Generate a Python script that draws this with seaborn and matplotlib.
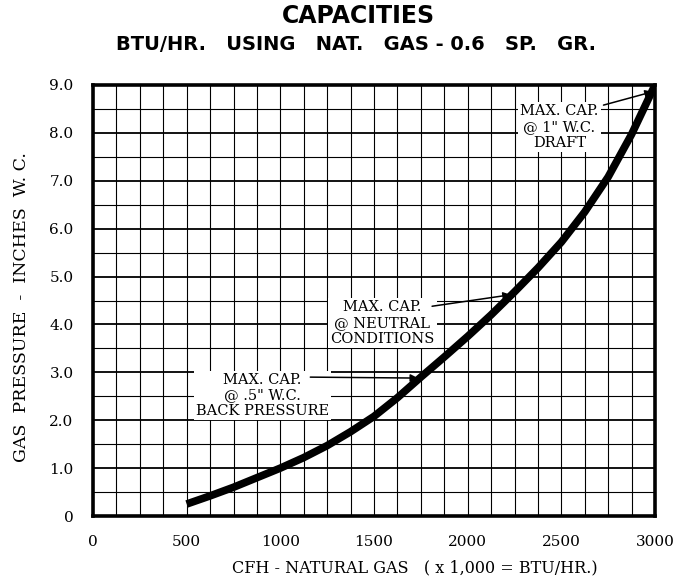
import numpy as np
import matplotlib
matplotlib.use("Agg")
import matplotlib.pyplot as plt
import seaborn as sns

sns.set_style("white")
plt.rcParams["font.family"] = ["DejaVu Serif"]
plt.rcParams["text.color"] = "black"
plt.rcParams["xtick.color"] = "black"
plt.rcParams["ytick.color"] = "black"

# curve (CFH vs. gas pressure, inches W.C.)
cfh = [500, 625, 750, 875, 1000, 1125, 1250, 1375, 1500, 1625, 1750, 1875,
       2000, 2125, 2250, 2375, 2500, 2625, 2750, 2875, 3000]
pressure = [0.25, 0.42, 0.6, 0.8, 1.0, 1.22, 1.47, 1.76, 2.08, 2.47, 2.9, 3.32,
            3.75, 4.2, 4.68, 5.18, 5.72, 6.35, 7.08, 7.97, 9.0]

x_ticks = [0, 500, 1000, 1500, 2000, 2500, 3000]
y_ticks = [0, 1, 2, 3, 4, 5, 6, 7, 8, 9]
y_labels = ["0", "1.0", "2.0", "3.0", "4.0", "5.0", "6.0", "7.0", "8.0", "9.0"]

notes = ["MAX. CAP.\n@ 1\" W.C.\nDRAFT",
         "MAX. CAP.\n@ NEUTRAL\nCONDITIONS",
         "MAX. CAP.\n@ .5\" W.C.\nBACK PRESSURE"]
note_xy = [(2490, 8.12), (1545, 4.03), (905, 2.52)]
arrow_from = [(2725, 8.58), (1810, 4.38), (1160, 2.9)]
arrow_to = [(2988, 8.86), (2230, 4.62), (1735, 2.88)]

fig = plt.figure(figsize=(6.81, 5.8), dpi=100)
ax = fig.add_axes([93 / 681, 64 / 580, 562 / 681, 431 / 580])

ax.set_xlim(0, 3000)
ax.set_ylim(0, 9)
ax.set_xticks(x_ticks)
ax.set_xticks(np.arange(0, 3001, 125), minor=True)
ax.set_yticks(y_ticks)
ax.set_yticklabels(y_labels)
ax.set_yticks(np.arange(0, 9.01, 0.5), minor=True)

ax.grid(axis="x", which="both", color="black", lw=0.8)
ax.grid(axis="y", which="major", color="black", lw=1.3)
ax.grid(axis="y", which="minor", color="black", lw=0.8)
ax.set_axisbelow(True)

sns.lineplot(x=cfh, y=pressure, ax=ax, color="black", lw=5.5,
             solid_capstyle="butt", solid_joinstyle="round")

for side in ["left", "right", "top", "bottom"]:
    ax.spines[side].set_visible(True)
    ax.spines[side].set_color("black")
    ax.spines[side].set_linewidth(2.6)

ax.tick_params(which="both", length=0, labelsize=11)
ax.tick_params(axis="x", pad=14)
ax.tick_params(axis="y", pad=14)
ax.set_xlabel("")
ax.set_ylabel("")

for txt, xy, a0, a1 in zip(notes, note_xy, arrow_from, arrow_to):
    ax.text(xy[0], xy[1], txt, ha="center", va="center", fontsize=10.5,
            linespacing=1.15, zorder=4,
            bbox=dict(facecolor="white", edgecolor="none", pad=1.5))
    ax.annotate("", xy=a1, xytext=a0, zorder=5,
                arrowprops=dict(arrowstyle="-|>", color="black", lw=1.1,
                                mutation_scale=11, shrinkA=0, shrinkB=0))

fig.text(358 / 681, 1 - 16 / 580, "CAPACITIES", ha="center", va="center",
         fontsize=17, fontweight="bold", family=["DejaVu Sans"])
fig.text(356 / 681, 1 - 45 / 580,
         "BTU/HR.   USING   NAT.   GAS - 0.6   SP.   GR.", ha="center",
         va="center", fontsize=14, fontweight="bold", family=["DejaVu Sans"])
fig.text(415 / 681, 1 - 568 / 580,
         "CFH - NATURAL GAS   ( x 1,000 = BTU/HR.)", ha="center",
         va="center", fontsize=11.5)
fig.text(22 / 681, 1 - 307 / 580, "GAS  PRESSURE  -  INCHES  W. C.",
         ha="center", va="center", rotation=90, fontsize=12.5)

fig.savefig("out.png", dpi=100)
